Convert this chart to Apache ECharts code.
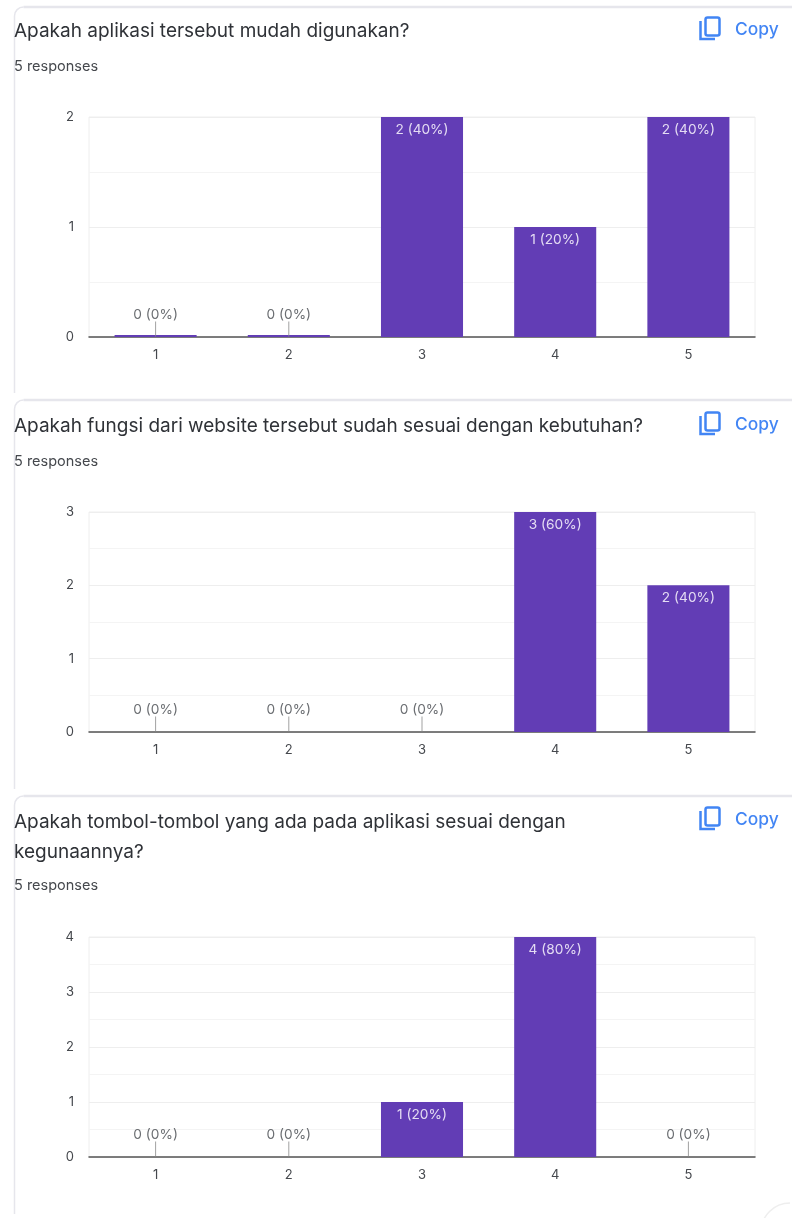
<!DOCTYPE html>
<html>
<head>
<meta charset="utf-8">
<style>
  html, body { margin: 0; padding: 0; background: #fff; }
  #chart { width: 792px; height: 1218px; filter: blur(0.45px); }
</style>
<script src="https://cdn.jsdelivr.net/npm/echarts@6/dist/echarts.min.js"></script>
</head>
<body>
<div id="chart"></div>
<script>
var categories = ['1', '2', '3', '4', '5']
var questions = [
  'Apakah aplikasi tersebut mudah digunakan?',
  'Apakah fungsi dari website tersebut sudah sesuai dengan kebutuhan?',
  'Apakah tombol-tombol yang ada pada aplikasi sesuai dengan\nkegunaannya?'
]
var responsesText = '5 responses'
var copyText = 'Copy'
var totalResponses = 5
var valuesMudah = [0, 0, 2, 1, 2]
var valuesFungsi = [0, 0, 0, 3, 2]
var valuesTombol = [0, 0, 1, 4, 0]
var axisMaxes = [2, 3, 4]

var allValues = [valuesMudah, valuesFungsi, valuesTombol]
var gridTops = [117, 512, 937]
var titleTops = [16, 411, 807]
var responseTops = [59, 454, 878]
var cardTops = [7, 400, 796]
var cardBottoms = [393, 789, 1214]
var copyOffsets = [0, 395, 790]
var stubHeights = [2, 0, 0]

var BAR_COLOR = '#623db5'
var TEXT_DARK = '#2f3237'
var TEXT_GREY = '#45484d'
var LINE_COLOR = '#eeeeee'
var CARD_COLOR = '#e6e6ec'
var BLUE = '#4285f4'
var FONT = 'Inter'

function labelText (v) {
  return v + ' (' + Math.round(v / totalResponses * 100) + '%)'
}

var grids = []
var xAxes = []
var yAxes = []
var series = []
var titles = []
var graphics = []

allValues.forEach(function (values, i) {
  grids.push({left: 89, right: 37, top: gridTops[i], height: 220, show: true, borderColor: LINE_COLOR, borderWidth: 1})
  xAxes.push({
    type: 'category',
    gridIndex: i,
    data: categories,
    axisTick: {show: false},
    axisLine: {lineStyle: {color: '#555', width: 1.5}},
    axisLabel: {color: TEXT_GREY, fontSize: 13, fontFamily: FONT, margin: 12}
  })
  yAxes.push({
    type: 'value',
    gridIndex: i,
    min: 0,
    max: axisMaxes[i],
    interval: 1,
    axisLine: {show: false},
    axisTick: {show: false},
    axisLabel: {color: TEXT_GREY, fontSize: 13, fontFamily: FONT, margin: 15, padding: [4, 0, 0, 0]},
    splitLine: {lineStyle: {color: LINE_COLOR}},
    minorTick: {show: false, splitNumber: 2},
    minorSplitLine: {show: true, lineStyle: {color: '#f4f4f4'}}
  })
  // bars with the white label inside
  series.push({
    type: 'bar',
    xAxisIndex: i,
    yAxisIndex: i,
    barWidth: '61.6%',
    barMinHeight: stubHeights[i],
    itemStyle: {color: BAR_COLOR},
    data: values.map(function (v) {
      return {
        value: v,
        label: {
          show: v > 0,
          position: 'insideTop',
          distance: 6,
          formatter: labelText(v),
          color: '#e4dcf3',
          fontSize: 13.7,
          fontFamily: FONT
        }
      }
    })
  })
  // little leader tick + label for the empty answers
  var zeros = []
  values.forEach(function (v, k) {
    if (v === 0) zeros.push([categories[k], v])
  })
  series.push({
    type: 'scatter',
    xAxisIndex: i,
    yAxisIndex: i,
    symbol: 'rect',
    symbolSize: [1, 15],
    symbolOffset: [0, -8],
    itemStyle: {color: '#8a8a8a'},
    label: {
      show: true,
      position: 'top',
      distance: 0,
      formatter: function (p) { return labelText(p.value[1]) },
      color: TEXT_GREY,
      fontSize: 13.7,
      fontFamily: FONT
    },
    z: 5,
    data: zeros
  })

  titles.push({
    text: questions[i],
    left: 14,
    top: titleTops[i],
    padding: 0,
    textStyle: {color: TEXT_DARK, fontSize: 19, fontWeight: 'normal', fontFamily: FONT, lineHeight: 30}
  })
  titles.push({
    text: responsesText,
    left: 14,
    top: responseTops[i],
    padding: 0,
    textStyle: {color: TEXT_GREY, fontSize: 14.5, fontWeight: 'normal', fontFamily: FONT, lineHeight: 15}
  })
  titles.push({
    text: copyText,
    left: 735,
    top: 20 + copyOffsets[i],
    padding: 0,
    textStyle: {color: BLUE, fontSize: 17.4, fontWeight: 500, fontFamily: FONT, lineHeight: 20}
  })

  // card outline, only top and left edges are on the page
  var top = cardTops[i]
  graphics.push({
    type: 'polyline',
    shape: {points: [[14.5, cardBottoms[i]], [14.5, top + 9]]},
    style: {stroke: CARD_COLOR, lineWidth: 1.5, fill: null}
  })
  graphics.push({
    type: 'arc',
    shape: {cx: 23.5, cy: top + 9, r: 9, startAngle: Math.PI, endAngle: Math.PI * 1.5},
    style: {stroke: CARD_COLOR, lineWidth: 1.5, fill: null}
  })
  graphics.push({
    type: 'polyline',
    shape: {points: [[23.5, top], [792, top]]},
    style: {stroke: CARD_COLOR, lineWidth: 2.5, fill: null}
  })

  // copy icon
  var off = copyOffsets[i]
  graphics.push({
    type: 'rect',
    shape: {x: 705.5, y: 17.5 + off, width: 14, height: 18, r: 2},
    style: {stroke: BLUE, lineWidth: 2.5, fill: null}
  })
  graphics.push({
    type: 'polyline',
    shape: {points: [[700.5, 21 + off], [700.5, 39 + off], [715, 39 + off]]},
    style: {stroke: BLUE, lineWidth: 2.5, fill: null}
  })
})

// start of the next card in the bottom right corner
graphics.push({
  type: 'arc',
  shape: {cx: 790, cy: 1232, r: 29, startAngle: Math.PI, endAngle: Math.PI * 1.5},
  style: {stroke: '#eeeeee', lineWidth: 1.5, fill: null}
})

var myChart = echarts.init(document.getElementById('chart'))
myChart.setOption({
  animation: false,
  backgroundColor: '#fff',
  title: titles,
  grid: grids,
  xAxis: xAxes,
  yAxis: yAxes,
  series: series,
  graphic: graphics
})
</script>
</body>
</html>
